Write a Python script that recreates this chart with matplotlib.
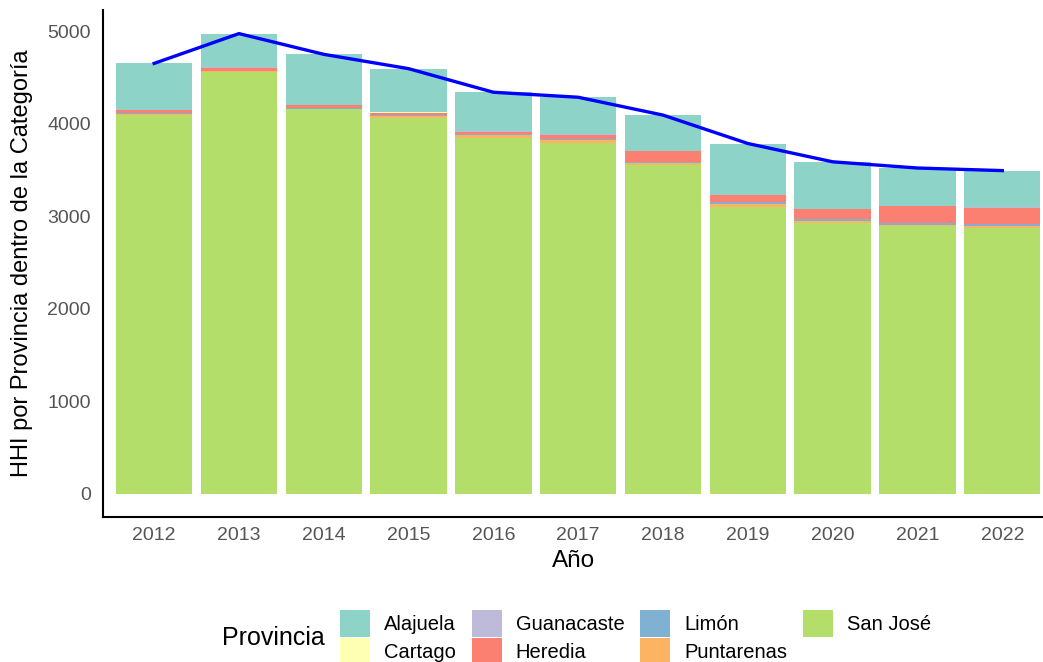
import matplotlib.pyplot as plt
import numpy as np

plt.rcParams['font.family'] = ['Liberation Sans', 'DejaVu Sans']

# HHI contribution of each province per year
years = ['2012', '2013', '2014', '2015', '2016', '2017', '2018', '2019', '2020', '2021', '2022']
alajuela = [500, 362, 546, 471, 421, 397, 384, 555, 508, 406, 393]
cartago = [3, 3, 3, 3, 3, 3, 3, 3, 3, 3, 3]
guanacaste = [3, 3, 3, 3, 3, 3, 3, 3, 3, 3, 3]
heredia = [35, 35, 32, 25, 25, 50, 115, 72, 104, 184, 173]
limon = [3, 3, 3, 5, 15, 5, 12, 20, 18, 20, 32]
puntarenas = [10, 10, 5, 30, 25, 35, 18, 30, 29, 12, 14]
san_jose = [4100, 4560, 4160, 4060, 3850, 3795, 3560, 3105, 2925, 2895, 2877]

provincias = ['Alajuela', 'Cartago', 'Guanacaste', 'Heredia', 'Limón', 'Puntarenas', 'San José']
series = [alajuela, cartago, guanacaste, heredia, limon, puntarenas, san_jose]
colors = ['#8DD3C7', '#FFFFB3', '#BEBADA', '#FB8072', '#80B1D3', '#FDB462', '#B3DE69']

x = np.arange(1, len(years) + 1)
total = np.sum(np.array(series), axis=0)

fig = plt.figure(figsize=(10.43, 6.62), dpi=100)
ax = fig.add_axes([0.099, 0.219, 0.901, 0.766])

# stack from San José at the bottom up to Alajuela on top
bottom = np.zeros(len(years))
handles = {}
for name, vals, col in reversed(list(zip(provincias, series, colors))):
    b = ax.bar(x, vals, width=0.9, bottom=bottom, color=col, label=name, linewidth=0)
    handles[name] = b
    bottom += np.array(vals)

ax.plot(x, total, color='#0000FF', linewidth=2.4, zorder=5)

ax.set_xlim(0.4, 11.48)
ax.set_ylim(-250, 5232)
ax.set_xticks(x)
ax.set_xticklabels(years)
ax.set_yticks([0, 1000, 2000, 3000, 4000, 5000])
ax.tick_params(axis='both', length=0, labelsize=14, labelcolor='#555555')
ax.tick_params(axis='y', pad=9)
ax.tick_params(axis='x', pad=7.5)

for s in ['top', 'right']:
    ax.spines[s].set_visible(False)
for s in ['left', 'bottom']:
    ax.spines[s].set_linewidth(1.5)
    ax.spines[s].set_color('black')

ax.set_xlabel('Año', fontsize=17.5)
ax.set_ylabel('HHI por Provincia dentro de la Categoría', fontsize=17)
ax.xaxis.set_label_coords(0.5, -0.066)
ax.yaxis.set_label_coords(-0.075, 0.5)

fig.text(222 / 1043, 1 - 638 / 662, 'Provincia', fontsize=18, ha='left', va='center')
leg = fig.legend([handles[p] for p in provincias], provincias,
                 loc='upper left', bbox_to_anchor=(340 / 1043, 1 - 610 / 662), ncol=4,
                 frameon=False, fontsize=14.5, handlelength=1.49, handleheight=1.69,
                 handletextpad=0.7, columnspacing=0.78, labelspacing=0.05,
                 borderpad=0, borderaxespad=0)

fig.savefig('out.png', dpi=100)
